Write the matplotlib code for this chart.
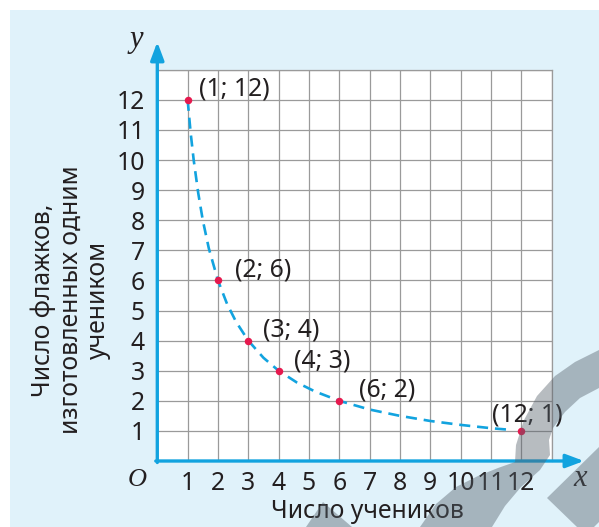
import matplotlib
matplotlib.use("Agg")
import matplotlib.pyplot as plt
from matplotlib.patches import Rectangle, Polygon

# ---- data ----
points_x = [1, 2, 3, 4, 6, 12]
points_y = [12, 6, 4, 3, 2, 1]
point_labels = ["(1; 12)", "(2; 6)", "(3; 4)", "(4; 3)", "(6; 2)", "(12; 1)"]
# dashed curve
curve_x = [1.0, 1.1, 1.2, 1.35, 1.5, 1.7, 2.0, 2.3, 2.6, 3.0, 3.5, 4.0, 4.6,
           5.2, 6.0, 7.0, 8.0, 9.0, 10.0, 11.0, 11.7]
curve_y = [12.0, 10.9, 10.0, 8.9, 8.0, 7.06, 6.0, 5.22, 4.62, 4.0, 3.43, 3.0,
           2.61, 2.31, 2.0, 1.71, 1.5, 1.33, 1.2, 1.09, 1.03]
x_ticks = list(range(1, 13))
y_ticks = list(range(1, 13))
x_label = "Число учеников"
y_label = "Число флажков,\nизготовленных одним\nучеником"

# ---- style ----
W, H = 599, 527
BLUE = "#12a3df"
RED = "#e6194e"
GRID = "#9a9a9a"
TXT = "#231f20"
PANEL = "#e0f2fa"
FONT = "Noto Sans"
FS = 17.8
label_offsets = [(8, 8), (12, 7.2), (10.8, 7.9), (10.8, 7.2), (14.4, 7.9), (-21, 11.5)]

plt.rcParams["font.family"] = [FONT, "DejaVu Sans"]

fig = plt.figure(figsize=(W / 100, H / 100), dpi=100)
fig.patch.set_facecolor("white")


def fx(x):
    return x / W


def fy(y):
    return 1 - y / H


# light blue panel
fig.add_artist(Rectangle((fx(10), 0), 1 - fx(10), fy(10), transform=fig.transFigure,
                         facecolor=PANEL, edgecolor="none", zorder=-5))

left, right, bottom, top = 157.3, 551.5, 461, 69.7
ax = fig.add_axes([fx(left), fy(bottom), (right - left) / W, (bottom - top) / H])
ax.set_facecolor("white")
ax.set_xlim(0, 13)
ax.set_ylim(0, 13)
for s in ax.spines.values():
    s.set_visible(False)

ax.set_xticks(list(range(1, 14)))
ax.set_xticklabels([str(v) for v in x_ticks] + [""])
ax.set_yticks(list(range(1, 14)))
ax.set_yticklabels([str(v) for v in y_ticks] + [""])
ax.tick_params(length=0, labelsize=FS, colors=TXT)
ax.tick_params(axis="x", pad=7)
ax.tick_params(axis="y", pad=9)
ax.grid(True, color=GRID, linewidth=0.9, zorder=0)
ax.set_axisbelow(True)
# border lines at 13
ax.plot([13, 13], [0, 13], color=GRID, lw=0.9, clip_on=False, zorder=1)
ax.plot([0, 13], [13, 13], color=GRID, lw=0.9, clip_on=False, zorder=1)

# axes arrows
arrow_kw = dict(arrowstyle="-|>,head_length=0.4,head_width=0.15", color=BLUE,
                lw=2.4, shrinkA=0, shrinkB=0, mutation_scale=27)
ax.annotate("", xy=(14.07, 0), xytext=(-0.05, 0), arrowprops=arrow_kw,
            annotation_clip=False, zorder=5)
ax.annotate("", xy=(0, 13.92), xytext=(0, -0.05), arrowprops=arrow_kw,
            annotation_clip=False, zorder=5)

# curve and points
ax.plot(curve_x, curve_y, color=BLUE, lw=1.9, dashes=(4.2, 2.6), zorder=3,
        clip_on=False)
ax.plot(points_x, points_y, "o", color=RED, markersize=5.4, zorder=4,
        clip_on=False, markeredgewidth=0)
for x, y, lab, off in zip(points_x, points_y, point_labels, label_offsets):
    ax.annotate(lab, (x, y), xytext=off, textcoords="offset points",
                ha="left", va="center", fontsize=FS, color=TXT,
                annotation_clip=False, zorder=6)

# axis letters
serif = dict(family="Liberation Serif", style="italic", color=TXT)
fig.text(fx(136), fy(40), "y", fontsize=22, ha="center", va="center", **serif)
fig.text(fx(580), fy(478), "x", fontsize=22, ha="center", va="center", **serif)
fig.text(fx(137), fy(480), "O", fontsize=19, ha="center", va="center", **serif)

# axis titles
fig.text(fx(367), fy(511), x_label, fontsize=FS, ha="center", va="center", color=TXT)
fig.text(fx(71), fy(300), y_label, fontsize=FS, ha="center", va="center",
         rotation=90, multialignment="center", color=TXT, linespacing=1.12)

# watermark shapes (decorative)
wm = dict(facecolor="#55606a", alpha=0.42, edgecolor="none", zorder=20,
          transform=fig.transFigure)
tri = [(306, 527), (323, 502), (352, 527)]
arc = [(599, 350), (575, 362), (555, 376), (537, 396), (524, 420), (516, 445),
       (515, 462), (498, 468), (478, 476), (456, 487), (436, 504), (420, 527),
       (492, 527), (505, 506), (521, 487), (540, 470), (550, 455), (549, 440),
       (553, 428), (565, 412), (580, 398), (599, 388)]
diag = [(547, 498), (599, 447), (599, 522), (594, 527), (577, 527)]
for shape in (tri, arc, diag):
    fig.add_artist(Polygon([(fx(a), fy(b)) for a, b in shape], closed=True, **wm))

fig.savefig("out.png", dpi=100)
